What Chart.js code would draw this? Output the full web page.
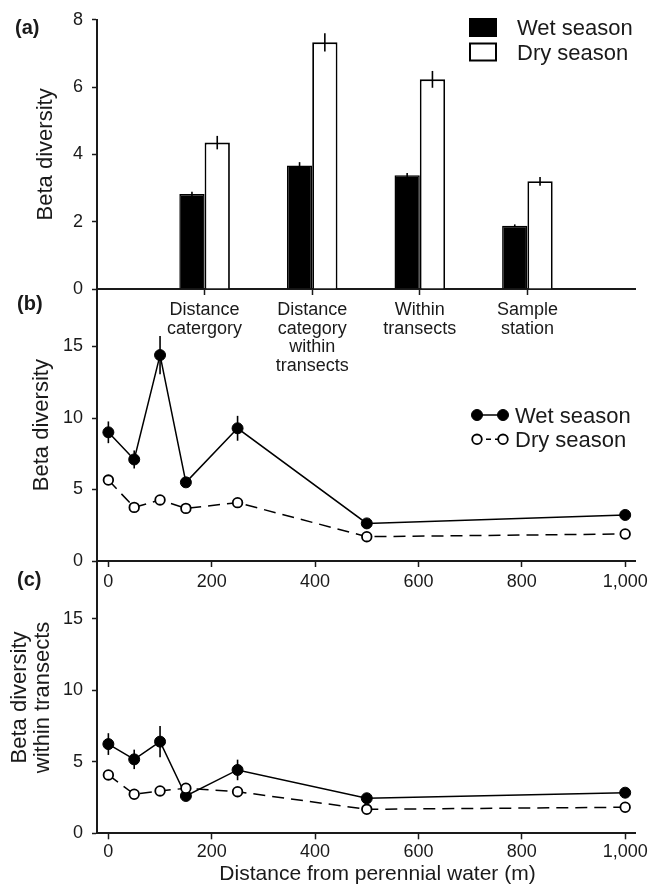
<!DOCTYPE html>
<html>
<head>
<meta charset="utf-8">
<script src="https://cdn.jsdelivr.net/npm/chart.js@4.4.1/dist/chart.umd.min.js"></script>
<style>
  html, body { margin: 0; padding: 0; background: #fff; }
  #wrap { position: relative; width: 658px; height: 892px; }
  #wrap canvas { position: absolute; left: 0; top: 0; }
</style>
</head>
<body>
<div id="wrap">
  <canvas id="a" width="658" height="892"></canvas>
  <canvas id="b" width="658" height="892"></canvas>
  <canvas id="c" width="658" height="892"></canvas>
</div>
<script>
const FONT = "'Liberation Sans', Arial, Helvetica, sans-serif"
const INK = '#1a1a1a'

// (a) bars per beta diversity level
const groups = [['Distance', 'catergory'], ['Distance', 'category', 'within', 'transects'], ['Within', 'transects'], ['Sample', 'station']]
const wetBar = [2.82, 3.67, 3.38, 1.88]
const wetBarErr = [0.07, 0.1, 0.07, 0.04]
const dryBar = [4.35, 7.33, 6.23, 3.2]
const dryBarErr = [0.2, 0.27, 0.25, 0.13]
const barTicks = [0, 2, 4, 6, 8]

// (b) and (c) against distance from water
const distance = [0, 50, 100, 150, 250, 500, 1000]
const wetB = [9.0, 7.1, 14.4, 5.5, 9.28, 2.63, 3.22]
const wetBErr = [0.76, 0.63, 1.34, 0.3, 0.87, 0.15, 0.15]
const dryB = [5.66, 3.75, 4.27, 3.68, 4.08, 1.70, 1.89]
const wetC = [6.24, 5.17, 6.41, 2.61, 4.43, 2.45, 2.84]
const wetCErr = [0.76, 0.68, 1.1, 0.2, 0.72, 0.15, 0.15]
const dryC = [4.08, 2.73, 2.96, 3.15, 2.91, 1.68, 1.82]
const distTicks = [0, 200, 400, 600, 800, 1000]
const lineTicks = [0, 5, 10, 15]

const pts = (xs, ys) => xs.map((x, i) => ({x, y: ys[i]}))
const setTicks = list => s => { s.ticks = list.map(v => ({value: v})) }

// vertical error bars from a dataset's "errors" array
const errorBars = {
  id: 'errorBars',
  afterDatasetsDraw(chart) {
    const ctx = chart.ctx, y = chart.scales.y
    chart.data.datasets.forEach((ds, i) => {
      if (!ds.errors) return
      const meta = chart.getDatasetMeta(i)
      meta.data.forEach((el, j) => {
        const d = ds.data[j]
        const v = d != null && typeof d === 'object' ? d.y : d
        const e = ds.errors[j]
        if (v == null || !e) return
        ctx.save()
        ctx.strokeStyle = '#000'
        ctx.lineWidth = 1.6
        ctx.beginPath()
        ctx.moveTo(el.x, y.getPixelForValue(v + e))
        ctx.lineTo(el.x, y.getPixelForValue(v - e))
        ctx.stroke()
        ctx.restore()
      })
    })
  }
}

function text(ctx, str, x, y, size, opts = {}) {
  ctx.save()
  ctx.fillStyle = INK
  ctx.font = (opts.bold ? 'bold ' : '') + size + 'px ' + FONT
  ctx.textAlign = opts.align || 'left'
  ctx.textBaseline = 'alphabetic'
  ctx.fillText(str, x, y)
  ctx.restore()
}

function xAxis(extra) {
  return Object.assign({
    grid: {drawOnChartArea: false, tickLength: 6, tickWidth: 1.5, tickColor: INK},
    border: {color: INK, width: 2},
    ticks: {color: INK, font: {family: FONT, size: 18}}
  }, extra)
}
function yAxis(title, titleSize, titleLH, padTop, extra) {
  return Object.assign({
    grid: {drawOnChartArea: false, tickLength: 5, tickWidth: 1.5, tickColor: INK},
    border: {color: INK, width: 2},
    ticks: {padding: 9, color: INK, font: {family: FONT, size: 18}},
    title: {display: true, text: title, color: INK, font: {family: FONT, size: titleSize, lineHeight: titleLH}, padding: {top: padTop, bottom: 0}},
    afterFit: s => { s.width = 97 }
  }, extra)
}

// ---------- (a)
new Chart(document.getElementById('a'), {
  type: 'bar',
  data: {
    labels: ['', ...groups, ''],
    datasets: [
      {label: 'Wet season', data: [null, ...wetBar, null], errors: [0, ...wetBarErr, 0],
        backgroundColor: '#000', borderColor: '#000', borderWidth: 1.5},
      {label: 'Dry season', data: [null, ...dryBar, null], errors: [0, ...dryBarErr, 0],
        backgroundColor: '#fff', borderColor: '#000', borderWidth: 1.8}
    ]
  },
  options: {
    responsive: false,
    animation: false,
    layout: {padding: {top: 17, right: 23, bottom: 513, left: 0}},
    datasets: {bar: {barPercentage: 1, categoryPercentage: 0.47}},
    plugins: {legend: {display: false}, tooltip: {enabled: false}},
    scales: {
      x: xAxis({
        offset: false,
        grid: {offset: false, drawOnChartArea: false, tickLength: 6, tickWidth: 1.5,
          tickColor: c => (c.index > 0 && c.index < 5 ? INK : 'rgba(0,0,0,0)')},
        ticks: {autoSkip: false, maxRotation: 0, padding: 6, color: INK, font: {family: FONT, size: 18, lineHeight: 1.03}},
        afterFit: s => { s.height = 90 }
      }),
      y: yAxis('Beta diversity', 22, 1.2, 33, {min: 0, max: 8, afterBuildTicks: setTicks(barTicks)})
    }
  },
  plugins: [errorBars, {
    id: 'notesA',
    afterDraw(chart) {
      const ctx = chart.ctx
      text(ctx, '(a)', 15, 34, 20, {bold: true})
      const rows = chart.data.datasets
      rows.forEach((ds, i) => {
        const top = 19 + i * 24.5
        ctx.save()
        ctx.fillStyle = ds.backgroundColor
        ctx.fillRect(470, top, 26, 17)
        ctx.strokeStyle = '#000'
        ctx.lineWidth = 2
        ctx.strokeRect(470, top, 26, 17)
        ctx.restore()
        text(ctx, ds.label, 517, 35 + i * 24.5, 22)
      })
    }
  }]
})

// ---------- (b) and (c)
function lineSets(wet, wetErr, dry) {
  return [
    {label: 'Wet season', data: pts(distance, wet), errors: wetErr, order: 1,
      borderColor: '#000', borderWidth: 1.5, tension: 0,
      pointRadius: 5.5, pointBackgroundColor: '#000', pointBorderColor: '#000', pointBorderWidth: 1},
    {label: 'Dry season', data: pts(distance, dry), order: 0,
      borderColor: '#000', borderWidth: 1.5, borderDash: [12, 7], tension: 0,
      pointRadius: 4.8, pointBackgroundColor: '#fff', pointBorderColor: '#000', pointBorderWidth: 1.8}
  ]
}

function lineOptions(padTop, padBottom, xHeight, xPad, yTitle, tSize, tLH, tPad) {
  return {
    responsive: false,
    animation: false,
    layout: {padding: {top: padTop, right: 23, bottom: padBottom, left: 0}},
    plugins: {legend: {display: false}, tooltip: {enabled: false}},
    scales: {
      x: xAxis({
        type: 'linear', min: -22, max: 1019,
        afterBuildTicks: setTicks(distTicks),
        ticks: {padding: xPad, maxRotation: 0, color: INK, font: {family: FONT, size: 18},
          callback: v => v.toLocaleString('en-US')},
        afterFit: s => { s.height = xHeight }
      }),
      y: yAxis(yTitle, tSize, tLH, tPad, {min: 0, max: 19, afterBuildTicks: setTicks(lineTicks)})
    }
  }
}

new Chart(document.getElementById('b'), {
  type: 'line',
  data: {datasets: lineSets(wetB, wetBErr, dryB)},
  options: lineOptions(289.3, 291, 40, 4, 'Beta diversity', 22, 1.2, 29),
  plugins: [errorBars, {
    id: 'notesB',
    afterDraw(chart) {
      const ctx = chart.ctx
      text(ctx, '(b)', 17, 310, 20, {bold: true})
      chart.data.datasets.forEach((ds, i) => {
        const yy = 415 + i * 24.3
        ctx.save()
        ctx.strokeStyle = '#000'
        ctx.lineWidth = 1.5
        if (ds.borderDash) ctx.setLineDash([5, 4])
        ctx.beginPath()
        ctx.moveTo(477, yy)
        ctx.lineTo(503, yy)
        ctx.stroke()
        ctx.setLineDash([])
        ctx.fillStyle = ds.pointBackgroundColor
        ctx.lineWidth = ds.pointBorderWidth
        ;[477, 503].forEach(cx => {
          ctx.beginPath()
          ctx.arc(cx, yy, ds.pointRadius, 0, Math.PI * 2)
          ctx.fill()
          ctx.stroke()
        })
        ctx.restore()
        text(ctx, ds.label, 515, 422.7 + i * 24, 22)
      })
    }
  }]
})

new Chart(document.getElementById('c'), {
  type: 'line',
  data: {datasets: lineSets(wetC, wetCErr, dryC)},
  options: lineOptions(561.6, 0, 58.7, 1.5, ['Beta diversity', 'within transects'], 22, 1.05, 8.5),
  plugins: [errorBars, {
    id: 'notesC',
    afterDraw(chart) {
      const ctx = chart.ctx
      text(ctx, '(c)', 17, 586, 20, {bold: true})
      text(ctx, 'Distance from perennial water (m)', 377.5, 880, 21, {align: 'center'})
    }
  }]
})
</script>
</body>
</html>
